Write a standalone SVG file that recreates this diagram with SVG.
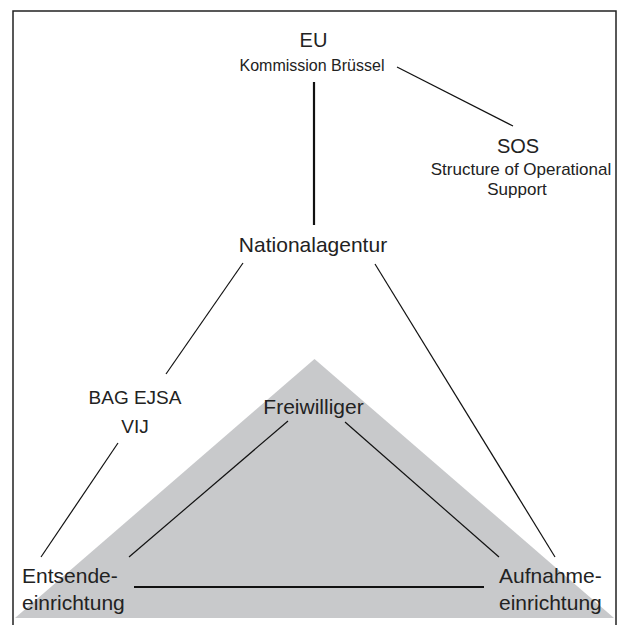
<svg xmlns="http://www.w3.org/2000/svg" width="622" height="625" viewBox="0 0 622 625">
<style>
text{font-family:"Liberation Sans",Arial,sans-serif;fill:#222;}
.big{font-size:21px;}
.small{font-size:16px;}
.c{text-anchor:middle;}
.ln{stroke:#111;stroke-width:1.2;fill:none;}
.thick{stroke:#111;stroke-width:2.2;fill:none;}
</style>
<rect x="0" y="0" width="622" height="625" fill="#fff"/>
<rect id="frame" x="13" y="11" width="603" height="630" fill="none" stroke="#222" stroke-width="1.5"/>
<polygon id="bg-triangle" points="314.5,359 15,618 614,618" fill="#c8c9cb"/>
<g id="connectors">
<line class="thick" x1="314" y1="82" x2="314" y2="225"/>
<line class="ln" x1="397" y1="67" x2="513" y2="126"/>
<line class="ln" x1="243" y1="263" x2="166" y2="374"/>
<line class="ln" x1="375" y1="264" x2="555" y2="557"/>
<line class="ln" x1="118" y1="443" x2="41" y2="557"/>
<line class="ln" x1="288" y1="421" x2="129" y2="557"/>
<line class="ln" x1="345" y1="422" x2="499" y2="557"/>
<line class="thick" x1="134" y1="587" x2="484" y2="587"/>
</g>
<g id="eu">
<text class="c" x="313.5" y="47" font-size="20">EU</text>
<text class="small c" x="312" y="70.5">Kommission Brüssel</text>
</g>
<g id="sos">
<text class="c" x="518" y="153" font-size="20">SOS</text>
<text class="c" x="521" y="175" font-size="17">Structure of Operational</text>
<text class="c" x="517" y="195" font-size="17">Support</text>
</g>
<g id="nationalagentur">
<text class="big c" x="313" y="252">Nationalagentur</text>
</g>
<g id="bag-ejsa">
<text class="c" x="135" y="404" font-size="19">BAG EJSA</text>
<text class="c" x="135" y="433" font-size="19">VIJ</text>
</g>
<g id="freiwilliger">
<text class="big c" x="313.5" y="414">Freiwilliger</text>
</g>
<g id="entsende">
<text class="big" x="22" y="583">Entsende-</text>
<text class="big" x="22" y="610">einrichtung</text>
</g>
<g id="aufnahme">
<text class="big" x="499" y="583">Aufnahme-</text>
<text class="big" x="499" y="610">einrichtung</text>
</g>
</svg>
